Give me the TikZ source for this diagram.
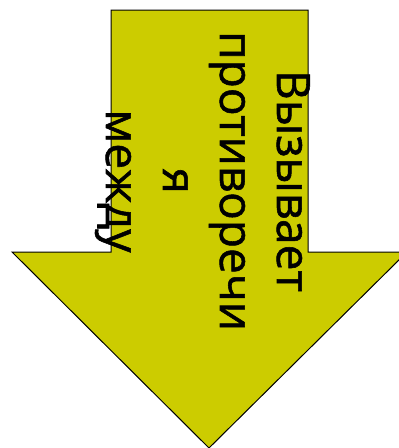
\documentclass[tikz,border=0pt]{standalone}
\usepackage{fontspec}
\setmainfont{Open Sans}[FakeBold=1.2]
\definecolor{arrowfill}{HTML}{CCCC00}
\begin{document}
\begin{tikzpicture}[x=1pt,y=-1pt,
  lbl/.style={rotate=-90,anchor=base,inner sep=0pt,font=\fontsize{46}{50}\selectfont}]
\useasboundingbox (0,0) rectangle (399,448);
\begin{scope}
\clip (0,0) rectangle (399,448);
\draw[fill=arrowfill,draw=black,line width=1pt,line join=miter]
  (111,10) -- (308,10) -- (308,252) -- (407,252) -- (209,448) -- (12,252) -- (111,252) -- cycle;
\end{scope}
\node[lbl] (l1) at (277,181) {Вызывает};
\node[lbl] (l2) at (220,181) {противоречи};
\node[lbl] (l3) at (163,181) {я};
\node[lbl] (l4) at (106,181) {между};
\end{tikzpicture}
\end{document}
